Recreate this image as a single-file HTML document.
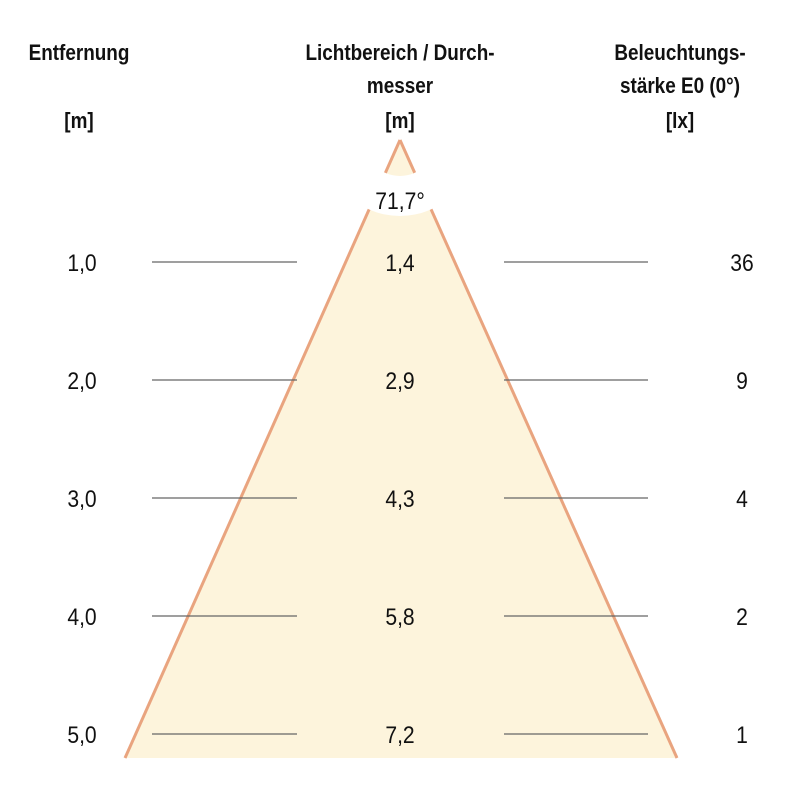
<!DOCTYPE html>
<html><head><meta charset="utf-8"><style>
html,body{margin:0;padding:0;background:#fff}
svg text{font-family:"Liberation Sans",sans-serif}
</style></head><body>
<svg width="800" height="800" viewBox="0 0 800 800">
<g id="cone">
<defs><mask id="m"><rect width="800" height="800" fill="#fff"/><circle cx="400" cy="140" r="76" fill="#000"/><circle cx="400" cy="140" r="36" fill="#fff"/></mask></defs>
<g mask="url(#m)">
<polygon points="400,140 125,758 677,758" fill="#fdf4dc"/>
<line x1="400" y1="140" x2="125" y2="758" stroke="#e9a47f" stroke-width="3"/>
<line x1="400" y1="140" x2="677" y2="758" stroke="#e9a47f" stroke-width="3"/>
</g>
</g>
<g font-weight="bold" font-size="22" fill="#111" text-anchor="middle">
<text transform="translate(79,60) scale(0.86,1)">Entfernung</text>
<text transform="translate(79,128) scale(0.86,1)">[m]</text>
<text transform="translate(400,60) scale(0.86,1)">Lichtbereich / Durch-</text>
<text transform="translate(400,93) scale(0.86,1)">messer</text>
<text transform="translate(400,128) scale(0.86,1)">[m]</text>
<text transform="translate(680,60) scale(0.86,1)">Beleuchtungs-</text>
<text transform="translate(680,93) scale(0.86,1)">stärke E0 (0°)</text>
<text transform="translate(680,128) scale(0.86,1)">[lx]</text>
</g>
<text transform="translate(400,209) scale(0.88,1)" font-size="24" text-anchor="middle" fill="#111">71,7°</text>
<g id="rows"></g>
</svg>
<script>
const distances=["1,0","2,0","3,0","4,0","5,0"];
const diameters=["1,4","2,9","4,3","5,8","7,2"];
const illuminance=["36","9","4","2","1"];
const g=document.getElementById('rows');
const ns="http://www.w3.org/2000/svg";
function yRow(i){return 262+i*118;}
function mk(tag,attrs,txt){const e=document.createElementNS(ns,tag);for(const k in attrs)e.setAttribute(k,attrs[k]);if(txt)e.textContent=txt;g.appendChild(e);return e;}
function tx(x,y){return 'translate('+x+','+y+') scale(0.88,1)';}
distances.forEach((d,i)=>{
 const y=yRow(i);
 let a=mk('line',{x1:152,x2:297,y1:y,y2:y,stroke:'#666','stroke-width':1.2});
 
 
 let b=mk('line',{x1:504,x2:648,y1:y,y2:y,stroke:'#666','stroke-width':1.2});
 
 
 let t1=mk('text',{transform:tx(82,y+9),'font-size':24,'text-anchor':'middle',fill:'#111'},d);
 
 
 let t2=mk('text',{transform:tx(400,y+9),'font-size':24,'text-anchor':'middle',fill:'#111'},diameters[i]);
 
 
 let t3=mk('text',{transform:tx(742,y+9),'font-size':24,'text-anchor':'middle',fill:'#111'},illuminance[i]);
 
 
});
</script>
</body></html>
